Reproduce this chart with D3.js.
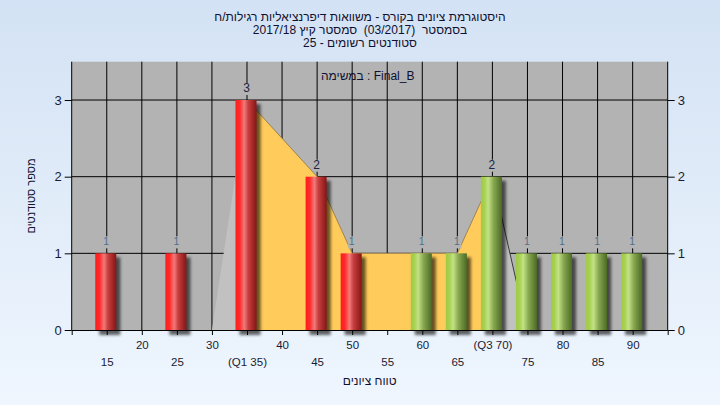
<!DOCTYPE html>
<html><head><meta charset="utf-8">
<script src="https://cdn.jsdelivr.net/npm/d3@7"></script>
<style>
html,body{margin:0;padding:0;width:720px;height:405px;overflow:hidden;}
svg{display:block;font-family:"Liberation Sans",Arial,sans-serif;}
</style></head>
<body>
<svg id="c" width="720" height="405"></svg>
<script>
// ---- data ----
const titleLines = [
  "היסטוגרמת ציונים בקורס - משוואות דיפרנציאליות רגילות/ח",
  "בסמסטר  (03/2017)  סמסטר קיץ 2017/18",
  "סטודנטים רשומים - 25"
];
const legendText = "במשימה : Final_B";
const xTitle = "טווח ציונים";
const yTitle = "מספר סטודנטים";
const categories = [15,25,35,45,50,60,65,70,75,80,85,90];
const counts     = [1,1,3,2,1,1,1,2,1,1,1,1];
const passMark = 55;
const areaCats = [30,35,45,50,60,65,70,75];
const areaVals = [0,3,2,1,1,1,2,0];
const q1 = 35, q3 = 70;
const row1Ticks  = [20,30,40,50,60,70,80,90];
const row1Labels = ["20","30","40","50","60","(Q3 70)","80","90"];
const row2Ticks  = [15,25,35,45,55,65,75,85];
const row2Labels = ["15","25","(Q1 35)","45","55","65","75","85"];
const yTicks = [0,1,2,3];

// ---- layout ----
const W=720,H=405;
const L=71.7,R=667.7,T=61.7,B=330;
const svg=d3.select("#c");
const defs=svg.append("defs");
const bg=defs.append("linearGradient").attr("id","bg").attr("x1",0).attr("y1",0).attr("x2",0).attr("y2",1);
bg.append("stop").attr("offset","0%").attr("stop-color","#d3e2f4");
bg.append("stop").attr("offset","100%").attr("stop-color","#eff6fe");
function cyl(id,stops){
  const g=defs.append("linearGradient").attr("id",id).attr("x1",0).attr("y1",0).attr("x2",1).attr("y2",0);
  stops.forEach(s=>g.append("stop").attr("offset",s[0]).attr("stop-color",s[1]));
}
cyl("red",[["0%","#ff1c1c"],["20%","#ff2a2a"],["42%","#f27a7a"],["60%","#c84040"],["100%","#871414"]]);
cyl("green",[["0%","#9dcb44"],["18%","#a8d252"],["35%","#c3e287"],["60%","#88a850"],["100%","#4b6a26"]]);
const f=defs.append("filter").attr("id","sh").attr("x","-50%").attr("y","-50%").attr("width","200%").attr("height","200%");
f.append("feGaussianBlur").attr("stdDeviation",1.6);

svg.append("rect").attr("width",W).attr("height",H).attr("fill","url(#bg)");

const x=d3.scaleLinear().domain([10,95]).range([L,R]);
const y=d3.scaleLinear().domain([0,3.5]).range([B,T]);

// plot background
svg.append("rect").attr("x",L).attr("y",T).attr("width",R-L).attr("height",B-T).attr("fill","#b3b3b3");

// grid
const grid=svg.append("g").attr("stroke","#000").attr("stroke-width",1);
grid.selectAll("line.v").data(d3.range(15,95,5)).join("line")
  .attr("x1",d=>x(d)).attr("x2",d=>x(d)).attr("y1",T).attr("y2",B);
grid.selectAll("line.h").data([1,2,3]).join("line")
  .attr("x1",L).attr("x2",R).attr("y1",d=>y(d)).attr("y2",d=>y(d));

// area (frequency polygon)
const pts=areaCats.map((c,i)=>({c,v:areaVals[i]}));
const area=d3.area().x(d=>x(d.c)).y0(y(0)).y1(d=>y(d.v));
svg.append("path").attr("d",area(pts)).attr("fill","#c1c1c1");
const inner=pts.filter(d=>d.c>=q1&&d.c<=q3);
svg.append("path").attr("d",area(inner)).attr("fill","#ffcb5a");
svg.append("path").attr("d",d3.line().x(d=>x(d.c)).y(d=>y(d.v))(inner))
  .attr("fill","none").attr("stroke","#8c7446").attr("stroke-width",0.8);
svg.append("path").attr("d",d3.line().x(d=>x(d.c)).y(d=>y(d.v))(pts.filter(d=>d.c>=q3)))
  .attr("fill","none").attr("stroke","#3a3a3a").attr("stroke-width",1);

// bars
const bw=(x(15)-x(12));
const data=categories.map((c,i)=>({c,v:counts[i]}));
const bars=svg.append("g");
bars.selectAll("rect.s").data(data).join("rect")
  .attr("x",d=>x(d.c)-1-bw/2+4).attr("y",d=>y(d.v)+4)
  .attr("width",bw).attr("height",d=>y(0)-y(d.v)+1)
  .attr("fill","#000").attr("opacity",0.6).attr("filter","url(#sh)");
bars.selectAll("rect.b").data(data).join("rect")
  .attr("x",d=>x(d.c)-1-bw/2).attr("y",d=>y(d.v))
  .attr("width",bw).attr("height",d=>y(0)-y(d.v))
  .attr("fill",d=>d.c<passMark?"url(#red)":"url(#green)");

// value labels
const lab=svg.append("g");
lab.selectAll("rect").data(data).join("rect")
  .attr("x",d=>x(d.c)-4).attr("y",d=>y(d.v)-17).attr("width",8).attr("height",12).attr("fill","#b3b3b3");
lab.selectAll("text").data(data).join("text")
  .attr("x",d=>x(d.c)-0.5).attr("y",d=>y(d.v)-8)
  .attr("text-anchor","middle").attr("font-size",d=>d.v>1?12:10.5)
  .attr("fill",d=>d.v>1?"#1d2540":"#4f6f8c")
  .text(d=>d.v);

// axes
const ax=svg.append("g").attr("transform",`translate(0,${B})`);
ax.call(d3.axisBottom(x).tickValues(d3.range(10,96,5)).tickSize(5).tickFormat(""));
ax.select(".domain").attr("d",`M${L},0.5H${R}`);
const r1=svg.append("g").attr("transform",`translate(0,${B})`)
  .call(d3.axisBottom(x).tickValues(row1Ticks).tickSize(0).tickPadding(11).tickFormat((d,i)=>row1Labels[i]));
const r2=svg.append("g").attr("transform",`translate(0,${B})`)
  .call(d3.axisBottom(x).tickValues(row2Ticks).tickSize(0).tickPadding(28).tickFormat((d,i)=>row2Labels[i]));
[r1,r2].forEach(g=>{g.select(".domain").remove();});
const yl=svg.append("g").attr("transform",`translate(${L},0)`)
  .call(d3.axisLeft(y).tickValues(yTicks).tickSize(7).tickPadding(3).tickFormat(d3.format("d")));
const yr=svg.append("g").attr("transform",`translate(${R},0)`)
  .call(d3.axisRight(y).tickValues(yTicks).tickSize(7).tickPadding(3).tickFormat(d3.format("d")));
[yl,yr].forEach(g=>g.select(".domain").attr("d",`M0,${T}V${B}`));
svg.selectAll(".tick text").attr("font-size",11.5).attr("fill","#1a1c33")
  .attr("font-family","'Liberation Sans',Arial,sans-serif");
svg.selectAll(".tick line,.domain").attr("stroke","#000");
yl.selectAll(".tick text").attr("font-size",13);
yr.selectAll(".tick text").attr("font-size",13);

// titles
svg.append("g").selectAll("text").data(titleLines).join("text")
  .attr("x",360).attr("y",(d,i)=>21+i*13).attr("text-anchor","middle")
  .attr("direction","rtl").attr("unicode-bidi","embed").style("white-space","pre")
  .attr("font-size",12).attr("fill","#101030").text(d=>d);
svg.append("text").attr("x",(L+R)/2-2).attr("y",80).attr("text-anchor","middle")
  .attr("direction","ltr").attr("font-size",12).attr("fill","#101030").text(legendText);
svg.append("text").attr("x",(L+R)/2).attr("y",385).attr("text-anchor","middle")
  .attr("direction","rtl").attr("font-size",12).attr("fill","#101030").text(xTitle);
svg.append("text").attr("transform",`translate(35,196) rotate(-90)`).attr("text-anchor","middle")
  .attr("direction","rtl").attr("font-size",11).attr("fill","#101030").text(yTitle);
</script>
</body></html>
